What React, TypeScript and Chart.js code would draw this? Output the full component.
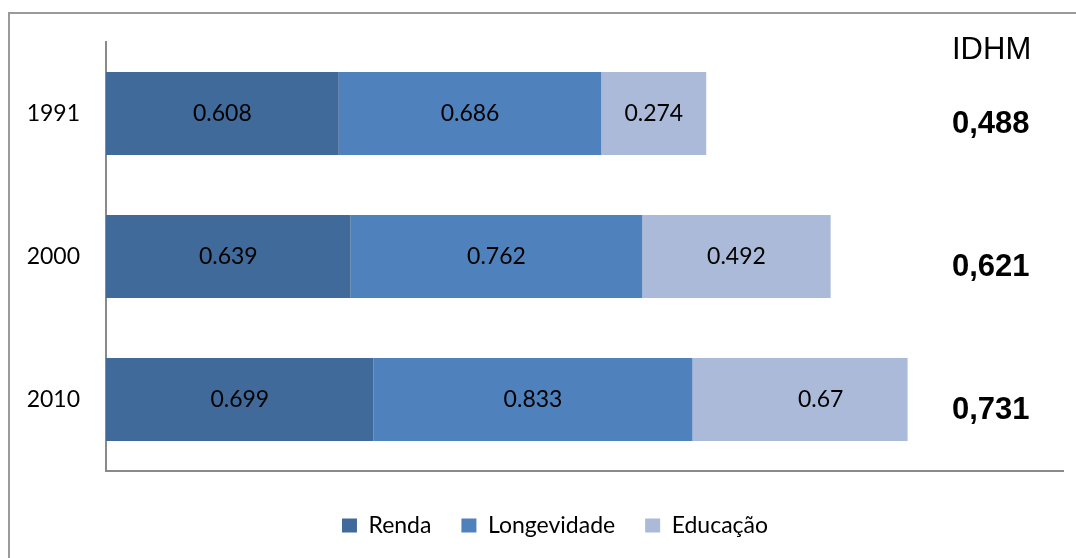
import React, { useEffect, useRef } from "react";
import { Chart, registerables } from "chart.js";

Chart.register(...registerables);

const categories = ["1991", "2000", "2010"];
const seriesNames = ["Renda", "Longevidade", "Educação"];
const renda = [0.608, 0.639, 0.699];
const longevidade = [0.686, 0.762, 0.833];
// label values as printed
const educacao = [0.274, 0.492, 0.67];
// drawn bar lengths as seen in the picture
const educacaoBar = [0.274, 0.492, 0.562];
const idhm = ["0,488", "0,621", "0,731"];
const idhmTitle = "IDHM";
const colors = ["#406A9A", "#4F81BD", "#AABAD8"];

const FONT = "Lato, 'Open Sans', sans-serif";

export default function App() {
  const ref = useRef<HTMLCanvasElement | null>(null);
  useEffect(() => {
    const canvas = ref.current;
    if (!canvas) return;
    const labelValues = [renda, longevidade, educacao];
    const overlay = {
      id: "overlay",
      afterLayout(chart: any) {
        // let the y tick labels use the space to the left of the axis box
        chart.scales.y.left = 0;
      },
      afterDatasetsDraw(chart: any) {
        const ctx = chart.ctx;
        const xs = chart.scales.x;
        const ys = chart.scales.y;
        ctx.save();
        ctx.fillStyle = "#000";
        ctx.font = `23px ${FONT}`;
        ctx.textAlign = "center";
        ctx.textBaseline = "middle";
        categories.forEach((_c, i) => {
          let start = 0;
          chart.data.datasets.forEach((ds: any, d: number) => {
            const lv = labelValues[d][i];
            const cx = xs.getPixelForValue(start + lv / 2);
            const cy = ys.getPixelForValue(i);
            ctx.fillText(String(lv), cx, cy);
            start += ds.data[i];
          });
        });
        ctx.textAlign = "left";
        ctx.font = `31px 'Liberation Sans', Arial, sans-serif`;
        ctx.fillText(idhmTitle, 952, 50);
        ctx.font = `bold 31px 'Liberation Sans', Arial, sans-serif`;
        idhm.forEach((t, i) => {
          ctx.fillText(t, 952, ys.getPixelForValue(i) + 11);
        });
        ctx.restore();
      },
    };
    const chart = new Chart(canvas, {
      type: "bar",
      data: {
        labels: categories,
        datasets: [
          { label: seriesNames[0], data: renda, backgroundColor: colors[0] },
          { label: seriesNames[1], data: longevidade, backgroundColor: colors[1] },
          { label: seriesNames[2], data: educacaoBar, backgroundColor: colors[2] },
        ],
      },
      options: {
        indexAxis: "y",
        animation: false,
        responsive: false,
        events: [],
        layout: { padding: { left: 47, right: 13, top: 42, bottom: 11 } },
        datasets: {
          bar: { barPercentage: 0.58, categoryPercentage: 1, borderWidth: 0 },
        },
        scales: {
          x: {
            stacked: true,
            min: 0,
            max: 2.5,
            ticks: { display: false },
            grid: { display: false, drawTicks: false },
            border: { display: true, color: "#8a8a8a", width: 2 },
            afterFit: (s: any) => {
              s.height = 13;
            },
          },
          y: {
            stacked: true,
            ticks: { color: "#000", font: { family: FONT, size: 23 }, padding: 26 },
            grid: { display: false, drawTicks: false },
            border: { display: true, color: "#8a8a8a", width: 2 },
            afterFit: (s: any) => {
              s.width = 59;
            },
          },
        },
        plugins: {
          legend: {
            position: "bottom",
            labels: {
              color: "#000",
              font: { family: FONT, size: 23 },
              boxWidth: 15,
              boxHeight: 14,
              padding: 30,
            },
          },
          tooltip: { enabled: false },
        },
      },
      plugins: [overlay],
    });
    return () => chart.destroy();
  }, []);
  return (
    <div style={{ position: "fixed", left: 0, top: 0, width: 1076, height: 558, background: "#fff", overflow: "hidden" }}>
      <div
        style={{
          position: "absolute",
          left: 8,
          top: 12,
          width: 1100,
          height: 600,
          borderLeft: "2px solid #9a9a9a",
          borderTop: "2px solid #9a9a9a",
        }}
      />
      <canvas ref={ref} width={1076} height={558} style={{ position: "absolute", left: 0, top: 0 }} />
    </div>
  );
}
